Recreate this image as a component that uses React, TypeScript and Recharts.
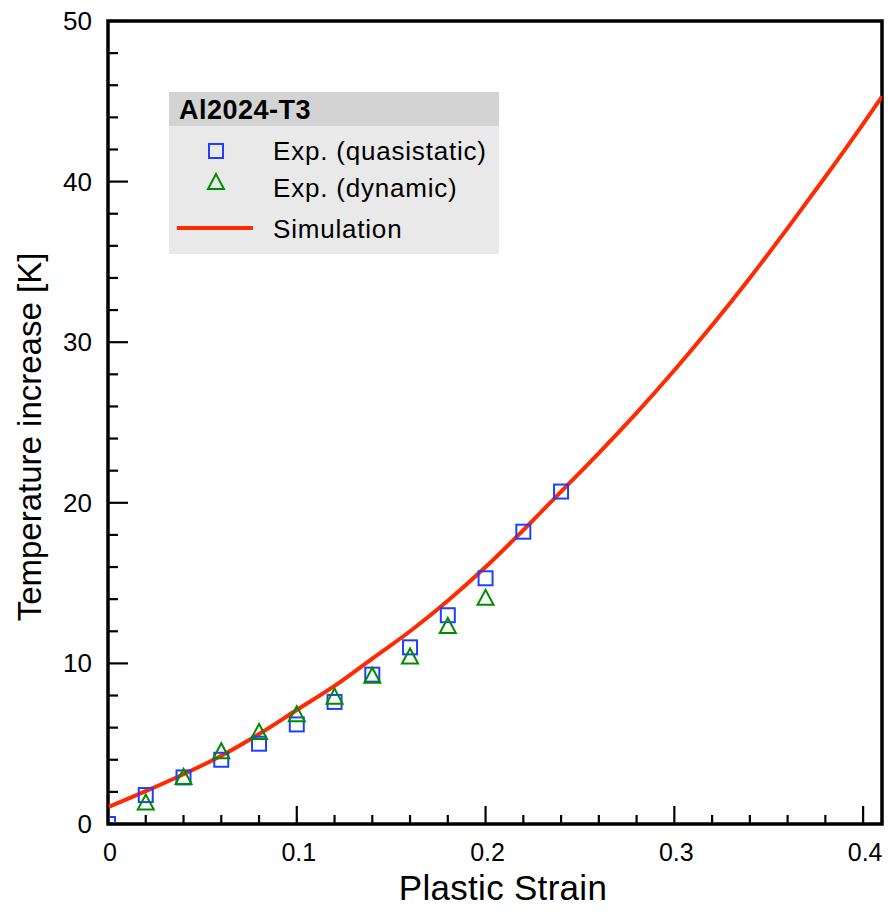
import React from 'react';
import { ComposedChart, Line, Scatter, XAxis, YAxis, ReferenceArea } from 'recharts';

// Simulation curve
const simStrain = [0, 0.02, 0.04, 0.06, 0.08, 0.1, 0.12, 0.14, 0.16, 0.18, 0.2, 0.22, 0.24, 0.26, 0.28, 0.3, 0.32, 0.34, 0.36, 0.38, 0.4, 0.41];
const simTemp = [1.05, 2.05, 3.1, 4.25, 5.6, 7.1, 8.6, 10.3, 12.0, 13.9, 16.0, 18.3, 20.7, 23.1, 25.6, 28.25, 31.05, 34.0, 37.1, 40.3, 43.6, 45.3];

// Experiment (quasistatic)
const qsStrain = [0, 0.02, 0.04, 0.06, 0.08, 0.1, 0.12, 0.14, 0.16, 0.18, 0.2, 0.22, 0.24];
const qsTemp = [0, 1.8, 2.9, 4.0, 5.0, 6.2, 7.6, 9.3, 11.0, 13.0, 15.3, 18.2, 20.7];

// Experiment (dynamic)
const dynStrain = [0.02, 0.04, 0.06, 0.08, 0.1, 0.12, 0.14, 0.16, 0.18, 0.2];
const dynTemp = [1.3, 2.9, 4.5, 5.7, 6.8, 7.9, 9.2, 10.4, 12.3, 14.05];

// Ticks
const xMajorTicks = [0, 0.1, 0.2, 0.3, 0.4];
const xTickLabels = ['0', '0.1', '0.2', '0.3', '0.4'];
const xMinorTicks = [0.02, 0.04, 0.06, 0.08, 0.12, 0.14, 0.16, 0.18, 0.22, 0.24, 0.26, 0.28, 0.32, 0.34, 0.36, 0.38];
const yMajorTicks = [0, 10, 20, 30, 40, 50];
const yTickLabels = ['0', '10', '20', '30', '40', '50'];
const yMinorTicks = [2, 4, 6, 8, 12, 14, 16, 18, 22, 24, 26, 28, 32, 34, 36, 38, 42, 44, 46, 48];

const legendTitle = 'Al2024-T3';
const seriesNames = ['Exp. (quasistatic)', 'Exp. (dynamic)', 'Simulation'];

const simData = simStrain.map((x, i) => ({ x, sim: simTemp[i] }));
const qsData = qsStrain.map((x, i) => ({ x, y: qsTemp[i] }));
const dynData = dynStrain.map((x, i) => ({ x, y: dynTemp[i] }));

const BLUE = '#1f3fff';
const GREEN = '#008c00';
const RED = '#ff2a00';
const FONT = '"Liberation Sans", Arial, Helvetica, sans-serif';

const allX = [...xMajorTicks, ...xMinorTicks].sort((a, b) => a - b);
const allY = [...yMajorTicks, ...yMinorTicks].sort((a, b) => a - b);

const XTick = (props: any) => {
  const { x, y, payload } = props;
  const idx = xMajorTicks.indexOf(payload.value);
  const major = idx >= 0;
  return (
    <g>
      <line x1={x} y1={y} x2={x} y2={y - (major ? 18 : 9)} stroke="#000" strokeWidth={2.2} />
      {major && (
        <text x={x + 2} y={y + 37} textAnchor="middle" fontFamily={FONT} fontSize={25} fill="#000">
          {xTickLabels[idx]}
        </text>
      )}
    </g>
  );
};

const YTick = (props: any) => {
  const { x, y, payload } = props;
  const idx = yMajorTicks.indexOf(payload.value);
  const major = idx >= 0;
  return (
    <g>
      <line x1={x} y1={y} x2={x + (major ? 20 : 10)} y2={y} stroke="#000" strokeWidth={2.2} />
      {major && (
        <text x={x - 16} y={y + 9} textAnchor="end" fontFamily={FONT} fontSize={26} fill="#000">
          {yTickLabels[idx]}
        </text>
      )}
    </g>
  );
};

const Square = (props: any) => {
  const { cx, cy } = props;
  return <rect x={cx - 7} y={cy - 7} width={14} height={14} fill="none" stroke={BLUE} strokeWidth={2} />;
};

const Triangle = (props: any) => {
  const { cx, cy } = props;
  const h = 15;
  const w = 16;
  return (
    <polygon
      points={`${cx},${cy - h / 2 - 1} ${cx - w / 2},${cy + h / 2 - 1} ${cx + w / 2},${cy + h / 2 - 1}`}
      fill="none"
      stroke={GREEN}
      strokeWidth={2}
    />
  );
};

const LegendBox = () => (
  <div style={{ position: 'absolute', left: 169, top: 92, width: 330, height: 162, background: '#e9e9e9', fontFamily: FONT }}>
    <div style={{ height: 34, background: '#d3d3d3', position: 'relative' }}>
      <span style={{ position: 'absolute', left: 10, top: 3, fontSize: 27, letterSpacing: 0.5, fontWeight: 'bold', color: '#000', lineHeight: '30px' }}>{legendTitle}</span>
    </div>
    <svg width={330} height={128} style={{ position: 'absolute', left: 0, top: 34 }}>
      <rect x={40} y={18} width={14} height={14} fill="none" stroke={BLUE} strokeWidth={2} />
      <polygon points="47,48 39,63 55,63" fill="none" stroke={GREEN} strokeWidth={2} />
      <line x1={8} y1={102} x2={84} y2={102} stroke={RED} strokeWidth={4} />
      <text x={104} y={34} fontSize={26} letterSpacing={0.8} fontFamily={FONT} fill="#000">{seriesNames[0]}</text>
      <text x={104} y={71} fontSize={26} letterSpacing={0.8} fontFamily={FONT} fill="#000">{seriesNames[1]}</text>
      <text x={104} y={112} fontSize={26} letterSpacing={0.8} fontFamily={FONT} fill="#000">{seriesNames[2]}</text>
    </svg>
  </div>
);

export default function App() {
  return (
    <div style={{ position: 'absolute', left: 0, top: 0, width: 888, height: 914, background: '#fff' }}>
      <ComposedChart width={888} height={914} margin={{ top: 21, right: 6, bottom: 0, left: 0 }}>
        <XAxis
          dataKey="x"
          type="number"
          domain={[0, 0.41]}
          allowDataOverflow
          ticks={allX}
          interval={0}
          tickSize={0}
          tickMargin={0}
          tickLine={false}
          axisLine={false}
          tick={<XTick />}
          height={90}
          label={(p: any) => {
            const vb = p.viewBox || { x: 108, y: 824, width: 774 };
            return (
              <text x={503} y={vb.y + 76} textAnchor="middle" fontFamily={FONT} fontSize={35} letterSpacing={0.3} fill="#000">
                Plastic Strain
              </text>
            );
          }}
        />
        <YAxis
          type="number"
          domain={[0, 50]}
          allowDataOverflow
          ticks={allY}
          interval={0}
          tickSize={0}
          tickMargin={0}
          tickLine={false}
          axisLine={false}
          tick={<YTick />}
          width={108}
          label={() => (
            <text
              x={41}
              y={437}
              transform="rotate(-90 41 437)"
              textAnchor="middle"
              fontFamily={FONT}
              fontSize={33}
              fill="#000"
            >
              Temperature increase [K]
            </text>
          )}
        />
        <Scatter name={seriesNames[0]} data={qsData} dataKey="y" shape={<Square />} isAnimationActive={false} />
        <Scatter name={seriesNames[1]} data={dynData} dataKey="y" shape={<Triangle />} isAnimationActive={false} />
        <Line
          name={seriesNames[2]}
          data={simData}
          dataKey="sim"
          type="monotone"
          stroke={RED}
          strokeWidth={4}
          dot={false}
          activeDot={false}
          isAnimationActive={false}
        />
        <ReferenceArea x1={0} x2={0.41} y1={0} y2={50} fill="none" stroke="#000" strokeWidth={3.5} ifOverflow="visible" />
      </ComposedChart>
      <LegendBox />
    </div>
  );
}
